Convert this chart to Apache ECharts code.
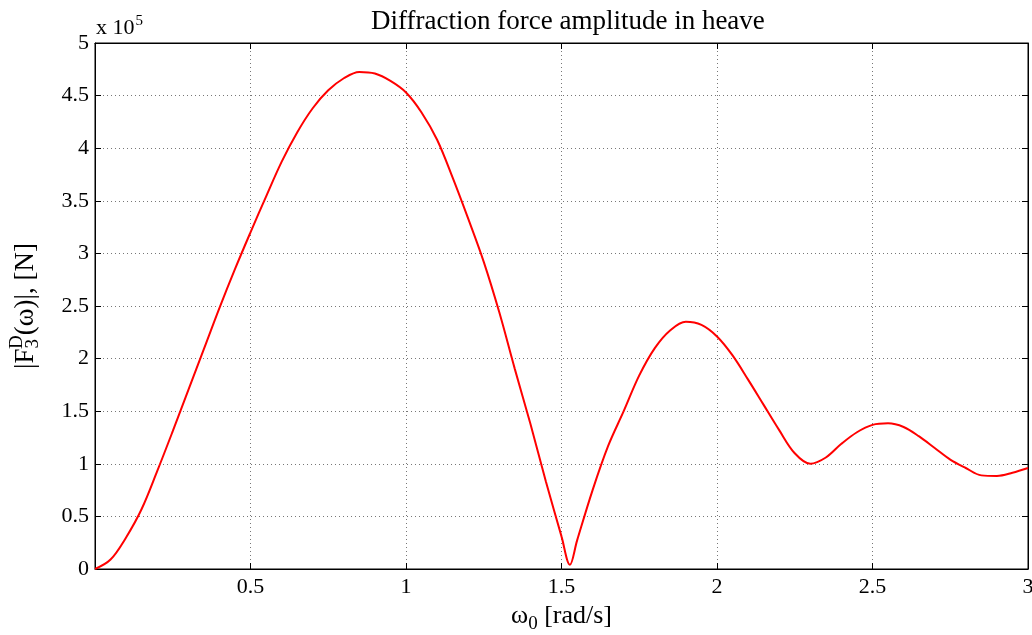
<!DOCTYPE html>
<html>
<head>
<meta charset="utf-8">
<script src="https://cdn.jsdelivr.net/npm/echarts@6/dist/echarts.min.js"></script>
<style>html,body{margin:0;padding:0;background:#fff}#c{width:1032px;height:635px}</style>
</head>
<body>
<div id="c"></div>
<script>
// omega [rad/s]
const omega = [0, 0.05, 0.10, 0.15, 0.20, 0.25, 0.30, 0.35, 0.40, 0.45, 0.50, 0.55, 0.60, 0.65, 0.70, 0.75, 0.80, 0.85, 0.90, 0.95, 1.00, 1.05, 1.10, 1.15, 1.20, 1.25, 1.30, 1.35, 1.40, 1.45, 1.50, 1.527, 1.55, 1.60, 1.65, 1.70, 1.75, 1.80, 1.85, 1.90, 1.95, 2.00, 2.05, 2.10, 2.15, 2.20, 2.25, 2.30, 2.35, 2.40, 2.45, 2.50, 2.55, 2.60, 2.65, 2.70, 2.75, 2.80, 2.85, 2.90, 2.95, 3.00];
// |F3D| in units of 1e5 N
const force = [0, 0.09, 0.30, 0.57, 0.93, 1.31, 1.70, 2.09, 2.48, 2.85, 3.20, 3.54, 3.87, 4.15, 4.38, 4.55, 4.665, 4.725, 4.71, 4.64, 4.53, 4.34, 4.08, 3.72, 3.33, 2.92, 2.44, 1.90, 1.38, 0.83, 0.31, 0.04, 0.27, 0.75, 1.17, 1.50, 1.84, 2.10, 2.27, 2.35, 2.32, 2.21, 2.03, 1.80, 1.56, 1.32, 1.10, 1.00, 1.06, 1.19, 1.30, 1.37, 1.385, 1.35, 1.26, 1.15, 1.04, 0.96, 0.89, 0.885, 0.915, 0.96];
const xTicks = ['0.5', '1', '1.5', '2', '2.5', '3'];
const yTicks = ['0', '0.5', '1', '1.5', '2', '2.5', '3', '3.5', '4', '4.5', '5'];
const scale = 1e5;

const FONT = 'Liberation Serif';
const chart = echarts.init(document.getElementById('c'), null, {renderer: 'canvas'});
const gridLine = {show: true, lineStyle: {color: '#777', type: [1, 3], width: 1}};
const axisLine = {show: true, onZero: false, lineStyle: {color: '#000', width: 1}};
const tick = {show: true, inside: true, length: 6, lineStyle: {color: '#000'}};
chart.setOption({
  animation: false,
  backgroundColor: '#fff',
  title: {
    text: 'Diffraction force amplitude in heave',
    left: 366, top: 3,
    textStyle: {fontFamily: FONT, fontWeight: 'normal', fontSize: 27, color: '#000'}
  },
  grid: {left: 95, right: 4, top: 43, bottom: 66, show: true, borderColor: '#000', borderWidth: 1, outerBoundsMode: 'none', containLabel: false},
  xAxis: [{
    type: 'value', min: 0, max: 3, interval: 0.5,
    axisLine: axisLine, axisTick: tick,
    axisLabel: {
      color: '#000', fontFamily: FONT, fontSize: 22, margin: 7,
      formatter: v => { const s = String(+v.toFixed(1)); return xTicks.indexOf(s) >= 0 ? s : ''; }
    },
    splitLine: gridLine,
    name: '{w|ω}{sub|0}{w| [rad/s]}', nameLocation: 'middle', nameGap: 30,
    nameTextStyle: {
      color: '#000', fontFamily: FONT,
      rich: {
        w: {fontFamily: FONT, fontSize: 26, color: '#000'},
        sub: {fontFamily: FONT, fontSize: 19, color: '#000', padding: [16, 0, 0, 0]}
      }
    }
  }, {
    type: 'value', position: 'top', min: 0, max: 3, interval: 0.5,
    axisLine: axisLine, axisTick: tick,
    axisLabel: {show: false}, splitLine: {show: false}
  }],
  yAxis: [{
    type: 'value', min: 0, max: 5 * scale, interval: 0.5 * scale,
    axisLine: axisLine, axisTick: tick,
    axisLabel: {
      color: '#000', fontFamily: FONT, fontSize: 22, margin: 6,
      formatter: v => { const s = String(+(v / scale).toFixed(1)); return yTicks.indexOf(s) >= 0 ? s : ''; }
    },
    splitLine: gridLine,
    name: '{w||F}{sub|3}{sup|D}{w|(ω)|, [N]}', nameLocation: 'middle', nameGap: 52, nameRotate: 90,
    nameTextStyle: {
      color: '#000', fontFamily: FONT,
      rich: {
        w: {fontFamily: FONT, fontSize: 27, color: '#000'},
        sub: {fontFamily: FONT, fontSize: 19, color: '#000', padding: [16, 0, 0, 0]},
        sup: {fontFamily: FONT, fontSize: 19, color: '#000', padding: [0, 0, 16, -10]}
      }
    }
  }, {
    type: 'value', position: 'right', min: 0, max: 5 * scale, interval: 0.5 * scale,
    axisLine: axisLine, axisTick: tick,
    axisLabel: {show: false}, splitLine: {show: false}
  }],
  graphic: [{
    type: 'text', left: 96, top: 14,
    style: {
      text: '{a|x 10}{s|5}',
      rich: {
        a: {fontFamily: FONT, fontSize: 22, fill: '#000', lineHeight: 26},
        s: {fontFamily: FONT, fontSize: 15, fill: '#000', padding: [0, 0, 13, 1]}
      }
    }
  }],
  series: [{
    type: 'line', xAxisIndex: 0, yAxisIndex: 0,
    data: omega.map((w, i) => [w, force[i] * scale]),
    smooth: 0.35, showSymbol: false, symbol: 'none',
    lineStyle: {color: '#ff0000', width: 2}
  }]
});
</script>
</body>
</html>
